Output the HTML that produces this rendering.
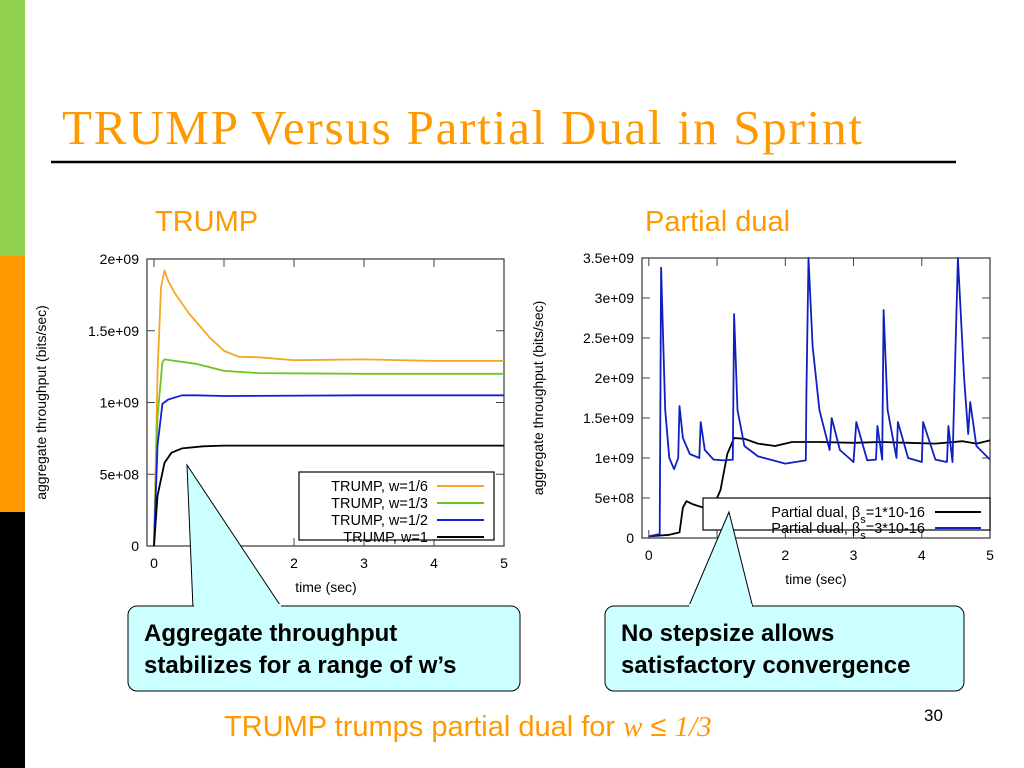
<!DOCTYPE html>
<html><head><meta charset="utf-8"><style>
body{margin:0;width:1024px;height:768px;overflow:hidden;background:#fff}
svg{display:block}
text{font-family:"Liberation Sans",sans-serif}
</style></head><body>
<svg id="s" width="1024" height="768" xmlns="http://www.w3.org/2000/svg">
<rect x="0" y="0" width="25" height="256" fill="#92d050"/>
<rect x="0" y="256" width="25" height="256" fill="#ff9900"/>
<rect x="0" y="512" width="25" height="256" fill="#000"/>
<text x="62" y="144" font-family="Liberation Serif" font-size="49" fill="#ff9900" textLength="800" style="font-family:'Liberation Serif',serif">TRUMP Versus Partial Dual in Sprint</text>
<line x1="51" y1="162" x2="956" y2="162" stroke="#000" stroke-width="2.5"/>
<text x="155" y="231" font-size="29" fill="#ff9900">TRUMP</text>
<text x="645" y="231" font-size="29" fill="#ff9900">Partial dual</text>
<g id="left"></g>
<g id="right"></g>
<g>
<polygon points="187,465 193,608 282,608" fill="#ccffff" stroke="#000" stroke-width="1"/>
<rect x="128" y="606" width="392" height="85" rx="9" fill="#ccffff" stroke="#000" stroke-width="1"/>
<rect x="194" y="604" width="87" height="4" fill="#ccffff"/>
<text x="144" y="641" font-size="24" font-weight="bold">Aggregate throughput</text>
<text x="144" y="673" font-size="24" font-weight="bold">stabilizes for a range of w’s</text>
</g>
<g>
<polygon points="729,512 688,608 753,608" fill="#ccffff" stroke="#000" stroke-width="1"/>
<rect x="605" y="606" width="359" height="85" rx="9" fill="#ccffff" stroke="#000" stroke-width="1"/>
<rect x="689" y="604" width="63" height="4" fill="#ccffff"/>
<text x="621" y="641" font-size="24" font-weight="bold">No stepsize allows</text>
<text x="621" y="673" font-size="24" font-weight="bold">satisfactory convergence</text>
</g>
<text x="224" y="736" font-size="29" fill="#ff9900">TRUMP trumps partial dual for <tspan font-style="italic" style="font-family:'Liberation Serif',serif">w</tspan> ≤ <tspan font-style="italic" style="font-family:'Liberation Serif',serif">1/3</tspan></text>
<text x="924" y="721" font-size="17" fill="#000">30</text>
</svg>
<script>
const leftTicksY=[0,5e8,1e9,1.5e9,2e9];
const leftTickLabelsY=["0","5e+08","1e+09","1.5e+09","2e+09"];
const leftTicksX=[0,1,2,3,4,5];
const leftTickLabelsX=["0","1","2","3","4","5"];
const w16=[[0,0],[0.05,1.2e9],[0.1,1.8e9],[0.15,1.92e9],[0.2,1.85e9],[0.3,1.76e9],[0.5,1.62e9],[0.8,1.45e9],[1.0,1.36e9],[1.2,1.32e9],[1.5,1.315e9],[2.0,1.295e9],[3.0,1.3e9],[4.0,1.29e9],[5,1.29e9]];
const w13=[[0,0],[0.05,0.9e9],[0.12,1.28e9],[0.15,1.3e9],[0.3,1.29e9],[0.6,1.27e9],[1.0,1.22e9],[1.5,1.205e9],[3,1.2e9],[5,1.2e9]];
const w12=[[0,0],[0.05,0.7e9],[0.12,0.99e9],[0.2,1.02e9],[0.4,1.05e9],[0.6,1.05e9],[1,1.045e9],[3,1.05e9],[5,1.05e9]];
const w1=[[0,0],[0.05,0.35e9],[0.15,0.58e9],[0.25,0.65e9],[0.4,0.68e9],[0.7,0.695e9],[1,0.7e9],[5,0.7e9]];
const rightTicksY=[0,5e8,1e9,1.5e9,2e9,2.5e9,3e9,3.5e9];
const rightTickLabelsY=["0","5e+08","1e+09","1.5e+09","2e+09","2.5e+09","3e+09","3.5e+09"];
const rightTicksX=[0,1,2,3,4,5];
const rightTickLabelsX=["0","1","2","3","4","5"];
const beta1=[[0,0.02e9],[0.3,0.04e9],[0.45,0.07e9],[0.5,0.38e9],[0.55,0.46e9],[0.65,0.42e9],[0.8,0.38e9],[0.95,0.4e9],[1.05,0.6e9],[1.15,1.05e9],[1.25,1.25e9],[1.4,1.24e9],[1.6,1.18e9],[1.85,1.15e9],[2.1,1.2e9],[2.5,1.2e9],[3,1.19e9],[3.4,1.2e9],[3.8,1.19e9],[4.2,1.18e9],[4.6,1.21e9],[4.8,1.18e9],[5,1.22e9]];
const beta3=[[0,0.02e9],[0.16,0.05e9],[0.18,3.38e9],[0.24,1.6e9],[0.3,1.0e9],[0.37,0.86e9],[0.43,1.0e9],[0.45,1.65e9],[0.5,1.25e9],[0.6,1.05e9],[0.74,1.0e9],[0.76,1.45e9],[0.82,1.1e9],[0.95,0.98e9],[1.1,0.97e9],[1.23,0.98e9],[1.25,2.8e9],[1.3,1.6e9],[1.4,1.15e9],[1.6,1.02e9],[2.0,0.93e9],[2.3,0.97e9],[2.31,1.8e9],[2.34,3.6e9],[2.4,2.4e9],[2.5,1.6e9],[2.65,1.1e9],[2.68,1.5e9],[2.8,1.1e9],[3.0,0.95e9],[3.04,1.45e9],[3.2,0.97e9],[3.33,0.98e9],[3.35,1.4e9],[3.42,0.98e9],[3.44,2.85e9],[3.5,1.6e9],[3.63,1.0e9],[3.65,1.45e9],[3.8,1.0e9],[4.0,0.95e9],[4.02,1.45e9],[4.2,0.98e9],[4.37,0.95e9],[4.39,1.4e9],[4.45,0.95e9],[4.48,1.9e9],[4.53,3.6e9],[4.62,2.0e9],[4.68,1.3e9],[4.71,1.7e9],[4.8,1.15e9],[5,0.98e9]];

const NS="http://www.w3.org/2000/svg";
function mk(p,tag,attrs){const e=document.createElementNS(NS,tag);for(const k in attrs)e.setAttribute(k,attrs[k]);p.appendChild(e);return e;}
function chart(g,c){
  const sx=v=>c.x0+(v-c.xmin)/(c.xmax-c.xmin)*(c.x1-c.x0);
  const sy=v=>c.y0-(v-c.ymin)/(c.ymax-c.ymin)*(c.y0-c.y1);
  const f=mk(g,'rect',{x:c.x0,y:c.y1,width:c.x1-c.x0,height:c.y0-c.y1,fill:'none',stroke:'#444','stroke-width':1.3});
  
  
  c.ty.forEach((v,i)=>{const y=sy(v);
    mk(g,'line',{x1:c.x0,y1:y,x2:c.x0+8,y2:y,stroke:'#444'});
    mk(g,'line',{x1:c.x1,y1:y,x2:c.x1-8,y2:y,stroke:'#444'});
    const t=mk(g,'text',{x:c.x0-8,y:y+5,'font-size':14,'text-anchor':'end'});t.textContent=c.tyl[i];
    
    });
  c.tx.forEach((v,i)=>{const x=sx(v);
    mk(g,'line',{x1:x,y1:c.y0,x2:x,y2:c.y0-8,stroke:'#444'});
    mk(g,'line',{x1:x,y1:c.y1,x2:x,y2:c.y1+8,stroke:'#444'});
    const t=mk(g,'text',{x:x,y:c.y0+22,'font-size':14,'text-anchor':'middle'});t.textContent=c.txl[i];
    
    });
  const xt=mk(g,'text',{x:c.xtx,y:c.xty,'font-size':14,'text-anchor':'middle'});xt.textContent='time (sec)';
  
  
  const yt=mk(g,'text',{x:0,y:0,'font-size':14,'text-anchor':'middle',transform:`translate(${c.ytx},${(c.y0+c.y1)/2}) rotate(-90)`});yt.textContent='aggregate throughput (bits/sec)';
  
  
  c.series.forEach(s=>{
    const p=mk(g,'polyline',{points:s.d.map(q=>sx(q[0]).toFixed(1)+','+sy(Math.min(q[1],c.ymax)).toFixed(1)).join(' '),fill:'none',stroke:s.col,'stroke-width':1.8,'stroke-linejoin':'round'});
    
    });
  // legend
  const L=c.leg;
  const lb=mk(g,'rect',{x:L.x,y:L.y,width:L.w,height:L.h,fill:'#fff',stroke:'#000','stroke-width':1.2});
  
  
  c.series.forEach((s,i)=>{const y=L.y+14+i*L.dy;
    const t=mk(g,'text',{x:L.tx,y:y+5,'font-size':14.5,'text-anchor':'end'});t.innerHTML=s.label;
    
    
    mk(g,'line',{x1:L.lx1,y1:y,x2:L.lx2,y2:y,stroke:s.col,'stroke-width':2});});
}
chart(document.getElementById('left'),{x0:147,x1:504,y0:546,y1:259,xmin:-0.1,xmax:5,ymin:0,ymax:2e9,
  ty:leftTicksY,tyl:leftTickLabelsY,tx:leftTicksX,txl:leftTickLabelsX,xtx:326,xty:592,ytx:46,
  series:[{d:w16,col:'#f5a623',name:'line-w-1-6',label:'TRUMP, w=1/6'},{d:w13,col:'#6cc51c',name:'line-w-1-3',label:'TRUMP, w=1/3'},{d:w12,col:'#1020e0',name:'line-w-1-2',label:'TRUMP, w=1/2'},{d:w1,col:'#000',name:'line-w-1',label:'TRUMP, w=1'}],
  leg:{x:299,y:472,w:195,h:68,dy:17,tx:428,lx1:437,lx2:484}});
chart(document.getElementById('right'),{x0:642,x1:990,y0:538,y1:258,xmin:-0.1,xmax:5,ymin:0,ymax:3.5e9,
  ty:rightTicksY,tyl:rightTickLabelsY,tx:rightTicksX,txl:rightTickLabelsX,xtx:816,xty:584,ytx:543,
  series:[{d:beta1,col:'#000',name:'line-beta-1e-16',label:'Partial dual, β<tspan baseline-shift="sub" font-size="11">s</tspan>=1*10-16'},{d:beta3,col:'#1020c0',name:'line-beta-3e-16',label:'Partial dual, β<tspan baseline-shift="sub" font-size="11">s</tspan>=3*10-16'}],
  leg:{x:703,y:498,w:287,h:32,dy:16,tx:925,lx1:935,lx2:981}});
</script>
</body></html>
